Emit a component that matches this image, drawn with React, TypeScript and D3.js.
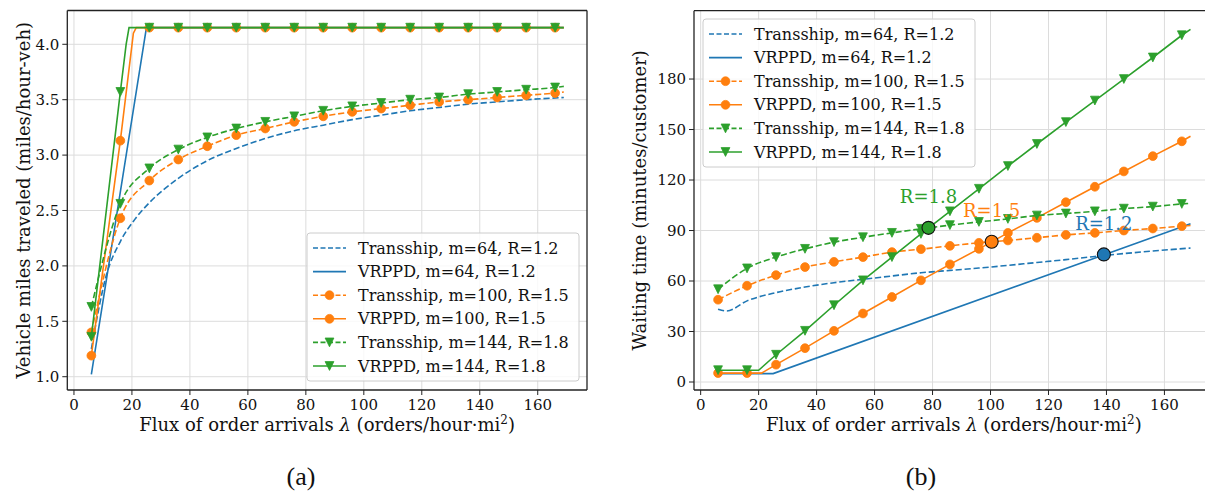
import React from 'react';
import * as d3 from 'd3';

const W = 1205;
const H = 491;
const FONT = 'DejaVu Serif';
const C_BLUE = '#1f77b4';
const C_ORANGE = '#ff7f0e';
const C_GREEN = '#2ca02c';

const xTicks = [0, 20, 40, 60, 80, 100, 120, 140, 160];
const yTicksA = [1.0, 1.5, 2.0, 2.5, 3.0, 3.5, 4.0];
const yTicksB = [0, 30, 60, 90, 120, 150, 180];

const legendLabels = [
  'Transship, m=64, R=1.2',
  'VRPPD, m=64, R=1.2',
  'Transship, m=100, R=1.5',
  'VRPPD, m=100, R=1.5',
  'Transship, m=144, R=1.8',
  'VRPPD, m=144, R=1.8',
];

// shared x positions (markers every 10, line ends at 169)
const xStep = [6, 16, 26, 36, 46, 56, 66, 76, 86, 96, 106, 116, 126, 136, 146, 156, 166, 169];

// ---------- Panel (a): vehicle miles traveled ----------
const vmtTrans64X = [6, 11, 16, 21, 26, 36, 46, 56, 66, 76, 86, 96, 106, 116, 126, 136, 146, 156, 169];
const vmtTrans64Y = [1.25, 1.90, 2.22, 2.42, 2.57, 2.79, 2.95, 3.06, 3.15, 3.22, 3.27, 3.32, 3.36, 3.40, 3.43, 3.46, 3.48, 3.50, 3.52];
const vmtVrppd64X = [6, 25, 169];
const vmtVrppd64Y = [1.02, 4.15, 4.15];
const vmtTrans100Y = [1.40, 2.43, 2.77, 2.96, 3.08, 3.18, 3.24, 3.30, 3.35, 3.39, 3.42, 3.45, 3.48, 3.50, 3.52, 3.54, 3.56, 3.57];
const vmtVrppd100X = [6, 16, 20.5, 21.5, 26, 36, 46, 56, 66, 76, 86, 96, 106, 116, 126, 136, 146, 156, 166, 169];
const vmtVrppd100Y = [1.19, 3.13, 4.10, 4.15, 4.15, 4.15, 4.15, 4.15, 4.15, 4.15, 4.15, 4.15, 4.15, 4.15, 4.15, 4.15, 4.15, 4.15, 4.15, 4.15];
const vmtTrans144Y = [1.63, 2.56, 2.88, 3.05, 3.16, 3.24, 3.30, 3.35, 3.40, 3.44, 3.47, 3.50, 3.52, 3.55, 3.57, 3.59, 3.61, 3.62];
const vmtVrppd144X = [6, 16, 18, 19, 26, 36, 46, 56, 66, 76, 86, 96, 106, 116, 126, 136, 146, 156, 166, 169];
const vmtVrppd144Y = [1.36, 3.57, 4.0, 4.15, 4.15, 4.15, 4.15, 4.15, 4.15, 4.15, 4.15, 4.15, 4.15, 4.15, 4.15, 4.15, 4.15, 4.15, 4.15, 4.15];

// ---------- Panel (b): waiting time ----------
const waitTrans64X = [6, 9, 16, 26, 36, 46, 56, 66, 76, 86, 96, 106, 116, 126, 136, 146, 156, 169];
const waitTrans64Y = [43.2, 42.2, 48.2, 53.1, 56.4, 59.0, 61.0, 63.0, 64.9, 66.3, 67.7, 69.3, 71.0, 72.7, 74.6, 76.3, 77.8, 79.6];
const waitVrppd64X = [6, 25, 169];
const waitVrppd64Y = [5.0, 5.0, 94.0];
const waitTrans100Y = [48.9, 57.2, 63.5, 68.3, 71.4, 74.2, 77.2, 78.9, 80.9, 82.7, 84.1, 85.7, 87.4, 88.6, 90.0, 91.2, 92.6, 93.0];
const waitVrppd100X = [6, 16, 21, 26, 36, 46, 56, 66, 76, 86, 96, 106, 116, 126, 136, 146, 156, 166, 169];
const waitVrppd100Y = [5.3, 5.3, 5.3, 10.3, 20.1, 30.4, 40.7, 50.5, 60.4, 69.9, 79.1, 88.6, 97.5, 106.8, 116.0, 125.1, 134.2, 143.0, 146.0];
const waitTrans144Y = [55.1, 67.5, 74.2, 79.1, 83.1, 86.0, 88.6, 91.0, 93.2, 95.1, 96.9, 98.9, 100.1, 101.4, 103.0, 104.2, 105.8, 106.2];
const waitVrppd144X = [6, 16, 20, 26, 36, 46, 56, 66, 76, 86, 96, 106, 116, 126, 136, 146, 156, 166, 169];
const waitVrppd144Y = [7.0, 7.0, 7.0, 16.2, 30.4, 45.6, 60.4, 74.2, 88.0, 101.4, 114.8, 128.3, 141.4, 154.4, 167.2, 180.0, 192.8, 206.0, 209.5];

// break-even points
const crossX = [139.1, 100.4, 78.6];
const crossY = [75.8, 83.3, 91.6];
const crossLabels = ['R=1.2', 'R=1.5', 'R=1.8'];
const crossColors = [C_BLUE, C_ORANGE, C_GREEN];

type Marker = 'none' | 'circle' | 'tri';
type Series = { x: number[]; y: number[]; color: string; dashed: boolean; marker: Marker; smooth: boolean };

const seriesA: Series[] = [
  { x: vmtTrans64X, y: vmtTrans64Y, color: C_BLUE, dashed: true, marker: 'none', smooth: true },
  { x: vmtVrppd64X, y: vmtVrppd64Y, color: C_BLUE, dashed: false, marker: 'none', smooth: false },
  { x: xStep, y: vmtTrans100Y, color: C_ORANGE, dashed: true, marker: 'circle', smooth: true },
  { x: vmtVrppd100X, y: vmtVrppd100Y, color: C_ORANGE, dashed: false, marker: 'circle', smooth: false },
  { x: xStep, y: vmtTrans144Y, color: C_GREEN, dashed: true, marker: 'tri', smooth: true },
  { x: vmtVrppd144X, y: vmtVrppd144Y, color: C_GREEN, dashed: false, marker: 'tri', smooth: false },
];

const seriesB: Series[] = [
  { x: waitTrans64X, y: waitTrans64Y, color: C_BLUE, dashed: true, marker: 'none', smooth: true },
  { x: waitVrppd64X, y: waitVrppd64Y, color: C_BLUE, dashed: false, marker: 'none', smooth: false },
  { x: xStep, y: waitTrans100Y, color: C_ORANGE, dashed: true, marker: 'circle', smooth: true },
  { x: waitVrppd100X, y: waitVrppd100Y, color: C_ORANGE, dashed: false, marker: 'circle', smooth: false },
  { x: xStep, y: waitTrans144Y, color: C_GREEN, dashed: true, marker: 'tri', smooth: true },
  { x: waitVrppd144X, y: waitVrppd144Y, color: C_GREEN, dashed: false, marker: 'tri', smooth: false },
];

const DASH = '6.2,2.8';
const LW = 1.6;
const MS = 4.4;

function MarkerShape({ kind, cx, cy, color }: { kind: Marker; cx: number; cy: number; color: string }) {
  if (kind === 'circle') return <circle cx={cx} cy={cy} r={MS} fill={color} stroke={color} strokeWidth={0.8} />;
  if (kind === 'tri') {
    const s = MS;
    return <path d={`M${cx - s},${cy - s}L${cx + s},${cy - s}L${cx},${cy + s}Z`} fill={color} stroke={color} strokeWidth={0.8} />;
  }
  return null;
}

type PanelProps = {
  id: string;
  left: number; right: number; top: number; bottom: number;
  xDomain: [number, number]; yDomain: [number, number];
  yTicks: number[]; yFmt: (v: number) => string;
  series: Series[];
  legendX: number; legendY: number;
  ylabel: string; ylabelX: number;
  showCross: boolean;
  rightSpine: boolean;
};

function Panel(p: PanelProps) {
  const xs = d3.scaleLinear().domain(p.xDomain).range([p.left, p.right]);
  const ys = d3.scaleLinear().domain(p.yDomain).range([p.bottom, p.top]);
  const axisColor = '#222';
  const gridColor = '#dcdcdc';
  const clipW = Math.min(p.right, W) - p.left;
  const legW = 272;
  const legH = 148;
  const rowH = 23.6;
  return (
    <g>
      <defs>
        <clipPath id={`clip-${p.id}`}>
          <rect x={p.left} y={p.top} width={clipW} height={p.bottom - p.top} />
        </clipPath>
      </defs>
      {/* grid */}
      {xTicks.map((t) => (
        <line key={`gx${t}`} x1={xs(t)} x2={xs(t)} y1={p.top} y2={p.bottom} stroke={gridColor} strokeWidth={1} />
      ))}
      {p.yTicks.map((t) => (
        <line key={`gy${t}`} x1={p.left} x2={p.right} y1={ys(t)} y2={ys(t)} stroke={gridColor} strokeWidth={1} />
      ))}
      {/* series */}
      <g clipPath={`url(#clip-${p.id})`}>
        {p.series.map((s, i) => {
          const pts = s.x.map((x, k) => [x, s.y[k]] as [number, number]);
          const gen = d3.line<[number, number]>()
            .x((d) => xs(d[0]))
            .y((d) => ys(d[1]))
            .curve(s.smooth ? d3.curveMonotoneX : d3.curveLinear);
          return (
            <g key={`s${i}`}>
              <path d={gen(pts) || ''} fill="none" stroke={s.color} strokeWidth={LW} strokeDasharray={s.dashed ? DASH : undefined} />
              {s.marker !== 'none' &&
                pts
                  .filter((d) => d[0] % 10 === 6 && d[0] <= 166)
                  .map((d, k) => <MarkerShape key={k} kind={s.marker} cx={xs(d[0])} cy={ys(d[1])} color={s.color} />)}
            </g>
          );
        })}
        {p.showCross &&
          crossX.map((cx, i) => (
            <g key={`c${i}`}>
              <circle cx={xs(cx)} cy={ys(crossY[i])} r={6.5} fill={crossColors[i]} stroke="#111" strokeWidth={1.1} />
            </g>
          ))}
      </g>
      {p.showCross &&
        crossX.map((cx, i) => (
          <text key={`ct${i}`} x={xs(cx)} y={ys(crossY[i]) - 24.5} textAnchor="middle" fontFamily={FONT} fontSize={18} fill={crossColors[i]}>
            {crossLabels[i]}
          </text>
        ))}
      {/* spines */}
      <line x1={p.left} x2={p.left} y1={p.top} y2={p.bottom} stroke={axisColor} strokeWidth={1.3} />
      <line x1={p.left} x2={p.right} y1={p.bottom} y2={p.bottom} stroke={axisColor} strokeWidth={1.3} />
      <line x1={p.left} x2={p.right} y1={p.top} y2={p.top} stroke={axisColor} strokeWidth={1.3} />
      {p.rightSpine && <line x1={p.right} x2={p.right} y1={p.top} y2={p.bottom} stroke={axisColor} strokeWidth={1.3} />}
      {/* ticks */}
      {xTicks.map((t) => (
        <g key={`tx${t}`}>
          <line x1={xs(t)} x2={xs(t)} y1={p.bottom} y2={p.bottom + 5} stroke={axisColor} strokeWidth={1} />
          <text x={xs(t)} y={p.bottom + 20} textAnchor="middle" fontFamily={FONT} fontSize={15} fill="#111">
            {t}
          </text>
        </g>
      ))}
      {p.yTicks.map((t) => (
        <g key={`ty${t}`}>
          <line x1={p.left - 5} x2={p.left} y1={ys(t)} y2={ys(t)} stroke={axisColor} strokeWidth={1} />
          <text x={p.left - 8} y={ys(t) + 5.3} textAnchor="end" fontFamily={FONT} fontSize={15} fill="#111">
            {p.yFmt(t)}
          </text>
        </g>
      ))}
      {/* axis labels */}
      <text x={(p.left + p.right) / 2} y={431} textAnchor="middle" fontFamily={FONT} fontSize={18} fill="#111">
        Flux of order arrivals <tspan fontStyle="italic">λ</tspan> (orders/hour·mi
        <tspan fontSize={12} dy={-7}>2</tspan>
        <tspan dy={7}>)</tspan>
      </text>
      <text
        transform={`translate(${p.ylabelX},${(p.top + p.bottom) / 2}) rotate(-90)`}
        textAnchor="middle"
        fontFamily={FONT}
        fontSize={18}
        fill="#111"
      >
        {p.ylabel}
      </text>
      {/* legend */}
      <g>
        <rect x={p.legendX} y={p.legendY} width={legW} height={legH} rx={3} fill="#fff" fillOpacity={0.8} stroke="#cccccc" strokeWidth={1} />
        {p.series.map((s, i) => {
          const cy = p.legendY + 15 + i * rowH;
          const x1 = p.legendX + 6;
          const x2 = p.legendX + 39;
          return (
            <g key={`lg${i}`}>
              <line x1={x1} x2={x2} y1={cy} y2={cy} stroke={s.color} strokeWidth={LW} strokeDasharray={s.dashed ? '5,2.5' : undefined} />
              <MarkerShape kind={s.marker} cx={(x1 + x2) / 2} cy={cy} color={s.color} />
              <text x={p.legendX + 51} y={cy + 5.6} fontFamily={FONT} fontSize={16} fill="#111">
                {legendLabels[i]}
              </text>
            </g>
          );
        })}
      </g>
    </g>
  );
}

export default function App() {
  return (
    <svg width={W} height={H} viewBox={`0 0 ${W} ${H}`} style={{ position: 'absolute', left: 0, top: 0, background: '#fff' }}>
      <rect x={0} y={0} width={W} height={H} fill="#fff" />
      <Panel
        id="a"
        left={67.3} right={587} top={10.5} bottom={390}
        xDomain={[-2.3, 177]} yDomain={[0.88, 4.305]}
        yTicks={yTicksA} yFmt={(v) => v.toFixed(1)}
        series={seriesA}
        legendX={307} legendY={233}
        ylabel="Vehicle miles traveled (miles/hour-veh)" ylabelX={30}
        showCross={false}
        rightSpine={true}
      />
      <Panel
        id="b"
        left={694} right={1213.7} top={10.7} bottom={390}
        xDomain={[-2.3, 177]} yDomain={[-4.75, 220.6]}
        yTicks={yTicksB} yFmt={(v) => String(v)}
        series={seriesB}
        legendX={703} legendY={19}
        ylabel="Waiting time (minutes/customer)" ylabelX={646}
        showCross={true}
        rightSpine={true}
      />
      <text x={301} y={485} textAnchor="middle" fontFamily="Liberation Serif" fontSize={26} fill="#111">(a)</text>
      <text x={921} y={485} textAnchor="middle" fontFamily="Liberation Serif" fontSize={26} fill="#111">(b)</text>
    </svg>
  );
}
